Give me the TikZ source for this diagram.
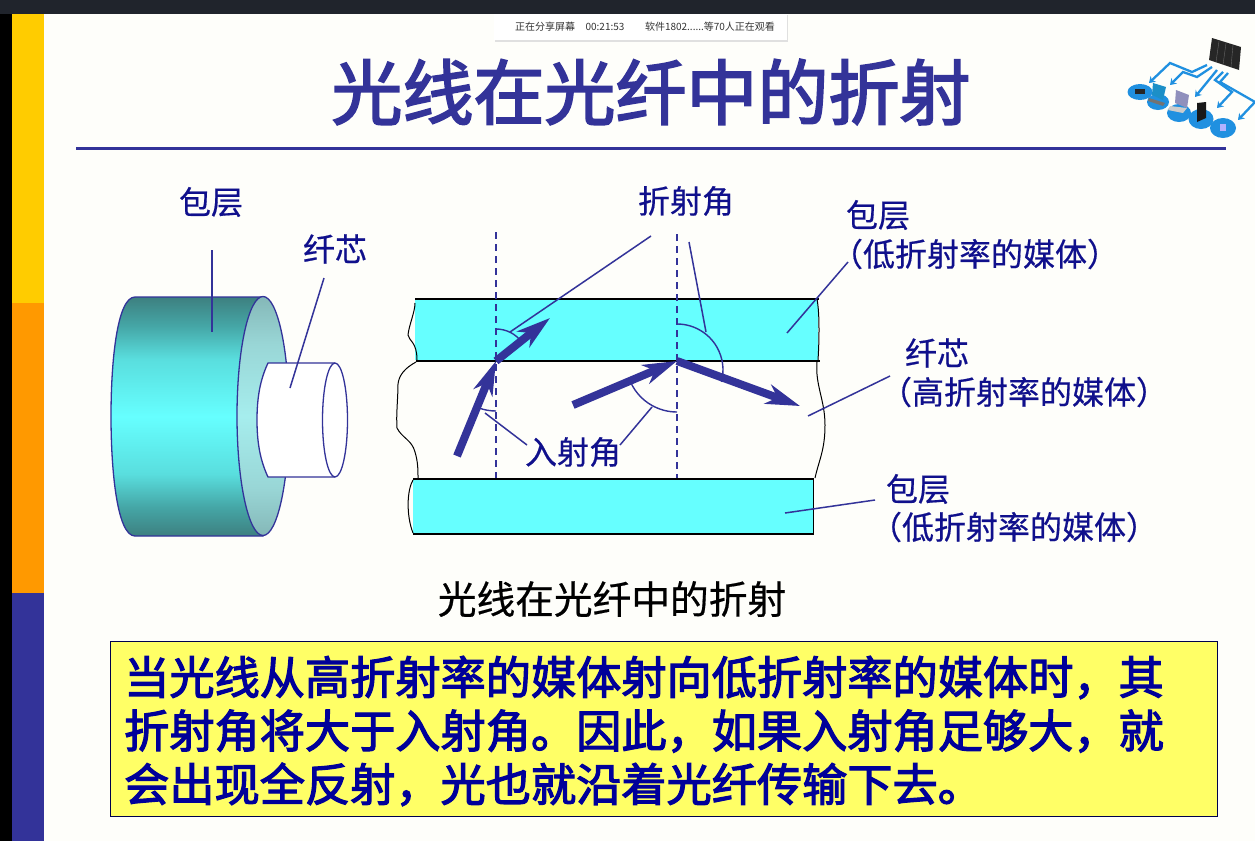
\documentclass[tikz,border=0pt]{standalone}
\usepackage{fontspec}
\setmainfont{Noto Sans CJK SC}
\newfontfamily\lblfont[FakeBold=0.5]{Noto Sans CJK SC}
\newfontfamily\heavyfont[FakeBold=2.6]{Noto Sans CJK SC}
\usetikzlibrary{arrows.meta}
\definecolor{inkblue}{HTML}{333399}
\definecolor{labelblue}{HTML}{10108C}
\definecolor{noteink}{HTML}{000099}
\definecolor{noteyellow}{HTML}{FFFF66}
\definecolor{bandcyan}{HTML}{66FFFF}
\definecolor{iconblue}{HTML}{2090E0}
\definecolor{paper}{HTML}{FEFEFA}
\definecolor{topbar}{HTML}{20242C}
\definecolor{stripeY}{HTML}{FFCC00}
\definecolor{stripeO}{HTML}{FF9900}
\pgfdeclareverticalshading{bodyfade}{100bp}{
	rgb(0bp)=(0.24,0.50,0.50); rgb(25bp)=(0.24,0.50,0.50); rgb(31bp)=(0.27,0.65,0.65); rgb(38bp)=(0.35,0.87,0.87); rgb(50bp)=(0.40,1,1); rgb(62bp)=(0.35,0.87,0.87); rgb(69bp)=(0.27,0.65,0.65); rgb(75bp)=(0.24,0.50,0.50); rgb(100bp)=(0.24,0.50,0.50)}
\pgfdeclareverticalshading{facefade}{100bp}{
	rgb(0bp)=(0.52,0.72,0.72); rgb(25bp)=(0.52,0.72,0.72); rgb(35bp)=(0.60,0.84,0.84); rgb(50bp)=(0.65,0.93,0.93); rgb(65bp)=(0.60,0.84,0.84); rgb(75bp)=(0.52,0.72,0.72); rgb(100bp)=(0.52,0.72,0.72)}
\tikzset{
	lbl/.style={text=labelblue, font=\lblfont\fontsize{32}{32}\selectfont, inner sep=0pt},
	barlbl/.style={text=black!80, font=\fontsize{10}{10}\selectfont, inner sep=0pt},
	leader/.style={inkblue, line width=1.5pt},
	edge/.style={black, line width=1pt},
	wall/.style={black, line width=2.2pt},
	normal/.style={inkblue, line width=1.7pt, dash pattern=on 7pt off 5pt},
	anglearc/.style={inkblue, line width=1.4pt},
	ray/.style={inkblue, line width=8pt, -{Stealth[length=34pt,width=20pt,inset=10pt]}},
	cyl/.style={inkblue, line width=1.3pt},
	iconarrow/.style={iconblue, line width=2.3pt, -{Stealth[length=6pt,width=8pt]}}
}
\begin{document}
\begin{tikzpicture}[x=1pt,y=-1pt]
	\useasboundingbox (0,0) rectangle (1255,841);
	\fill[paper] (0,0) rectangle (1255,841);
	\fill[black] (0,0) rectangle (12,841);
	\fill[stripeY] (12,14) rectangle (44,303);
	\fill[stripeO] (12,303) rectangle (44,593);
	\fill[inkblue] (12,593) rectangle (44,841);
	\fill[topbar] (0,0) rectangle (1255,14);

	\fill[black!12] (495,15) rectangle (788,42);
	\fill[white] (494,14) rectangle (787,40);
	\node[barlbl] (sharelbl) at (545,27) {正在分享屏幕};
	\node[barlbl] (sharetime) at (605,27) {00:21:53};
	\node[barlbl] (sharewho) at (710,27) {软件1802......等70人正在观看};

	\node[text=inkblue, font=\heavyfont\fontsize{71}{71}\selectfont, inner sep=0pt] (title) at (651,92) {光线在光纤中的折射};
	\coordinate (ruleL) at (76,148);
	\coordinate (ruleR) at (1226,148);
	\draw[inkblue, line width=3pt] (ruleL) -- (ruleR);

	% network icon
	\fill[black!85] (1212,38) -- (1241,47) -- (1239,70) -- (1209,60) -- cycle;
	\draw[black!60, line width=0.4pt] (1219,41) -- (1216,62) (1226,43) -- (1223,65) (1233,45) -- (1231,67);
	\fill[iconblue] (1140,92) ellipse [x radius=12.5, y radius=8];
	\fill[iconblue] (1158,102) ellipse [x radius=11, y radius=8];
	\fill[iconblue] (1179,113) ellipse [x radius=12, y radius=9];
	\fill[iconblue] (1201,119) ellipse [x radius=12.5, y radius=10];
	\fill[iconblue] (1223,128) ellipse [x radius=13, y radius=10];
	\draw[iconarrow] (1207,65) -- (1192,72) -- (1170,63) -- (1149,83);
	\draw[iconarrow] (1212,67) -- (1197,77) -- (1183,72) -- (1170,85);
	\draw[iconarrow] (1217,70) -- (1195,97);
	\draw[iconarrow] (1223,72) -- (1215,80) -- (1232,92) -- (1217,108);
	\draw[iconarrow] (1228,73) -- (1220,82) -- (1255,102) -- (1238,120);
	\fill[black!85] (1135,89) rectangle (1145,94);
	\fill[inkblue!55!cyan] (1153,83) -- (1166,87) -- (1163,100) -- (1152,95) -- cycle;
	\fill[black!55] (1149,98) -- (1165,103) -- (1163,106) -- (1148,101) -- cycle;
	\fill[blue!25!gray!70] (1176,90) -- (1189,95) -- (1187,108) -- (1175,103) -- cycle;
	\fill[black!20] (1170,106) -- (1187,108) -- (1183,113) -- (1168,110) -- cycle;
	\fill[black!90] (1197,103) -- (1206,102) -- (1206,118) -- (1197,122) -- cycle;
	\fill[white!70!blue] (1220,124) rectangle (1226,131);

	% cylinder
	\draw[cyl, shading=bodyfade] (135,297) -- (263,297) -- (263,536) -- (135,536) .. controls (117,536) and (111,470) .. (111,416) .. controls (111,362) and (117,297) .. (135,297) -- cycle;
	\draw[cyl, shading=facefade] (263,416) ellipse [x radius=26, y radius=119.5];
	\draw[cyl, fill=white] (335,363) -- (268,363) .. controls (260,380) and (257,398) .. (257,420) .. controls (257,442) and (260,460) .. (268,477) -- (335,477);
	\draw[cyl, fill=white] (335,420) ellipse [x radius=12.5, y radius=57];

	% bands
	\fill[bandcyan] (415,300) rectangle (818,360);
	\fill[bandcyan] (413,480) rectangle (813,533);
	\draw[edge] (415,303) .. controls (415,312) and (409,325) .. (408,335) .. controls (409,341) and (417,342) .. (417,360);
	\draw[edge] (416,362) .. controls (405,368) and (399,375) .. (398,384) .. controls (398,398) and (396,415) .. (397,428) .. controls (402,438) and (412,440) .. (415,452) .. controls (418,462) and (418,470) .. (418,478);
	\draw[edge] (413,480) .. controls (407,490) and (406,515) .. (413,533);
	\draw[edge] (817,299) .. controls (820,315) and (819,345) .. (818,360);
	\draw[edge] (817,362) .. controls (815,385) and (825,400) .. (825,425) .. controls (825,450) and (819,460) .. (815,478);
	\draw[edge] (813,480) -- (813,533);
	\coordinate (topL) at (415,299);
	\coordinate (topR) at (819,299);
	\coordinate (midL) at (416,361);
	\coordinate (midR) at (820,361);
	\coordinate (lowL) at (413,479);
	\coordinate (lowR) at (814,479);
	\coordinate (botL) at (413,534);
	\coordinate (botR) at (814,534);
	\draw[wall] (topL) -- (topR);
	\draw[wall] (midL) -- (midR);
	\draw[wall] (lowL) -- (lowR);
	\draw[wall] (botL) -- (botR);

	\coordinate (hitL) at (496,361);
	\coordinate (hitR) at (677,361);
	\coordinate (normLtop) at (496,232);
	\coordinate (normLbot) at (496,478);
	\coordinate (normRtop) at (677,234);
	\coordinate (normRbot) at (677,478);
	\draw[normal] (normLtop) -- (normLbot);
	\draw[normal] (normRtop) -- (normRbot);

	\coordinate (rayAstart) at (457,456);
	\coordinate (rayBend) at (550,318);
	\coordinate (rayCstart) at (573,405);
	\coordinate (rayDend) at (800,406);
	\draw[ray] (rayAstart) -- (hitL);
	\draw[ray] (hitL) -- (rayBend);
	\draw[ray] (rayCstart) -- (hitR);
	\draw[ray] (hitR) -- (rayDend);

	\draw[anglearc] (496,411) arc [start angle=90, end angle=109, radius=50];
	\draw[anglearc] (496,329) arc [start angle=-90, end angle=-36, radius=32];
	\draw[anglearc] (677,324) arc [start angle=-90, end angle=15, radius=46];
	\draw[anglearc] (677,412) arc [start angle=90, end angle=153, radius=51];

	% labels
	\node[lbl] (cladA) at (211,202) {包层};
	\node[lbl] (coreA) at (335,249) {纤芯};
	\node[lbl] (refr) at (686,201) {折射角};
	\node[lbl] (cladB) at (878,215) {包层};
	\node[lbl] (cladBnote) at (975,254) {（低折射率的媒体）};
	\node[lbl] (coreB) at (937,353) {纤芯};
	\node[lbl] (coreBnote) at (1024,392) {（高折射率的媒体）};
	\node[lbl] (cladC) at (918,489) {包层};
	\node[lbl] (cladCnote) at (1014,527) {（低折射率的媒体）};
	\node[lbl] (inc) at (573,452) {入射角};
	\node[text=black, font=\lblfont\fontsize{38.7}{38.7}\selectfont, inner sep=0pt] (caption) at (612,599) {光线在光纤中的折射};

	% leaders
	\coordinate (pA) at (212,332);
	\coordinate (pB) at (290,388);
	\coordinate (pC) at (510,332);
	\coordinate (pD) at (706,332);
	\coordinate (pE) at (787,333);
	\coordinate (pF) at (808,416);
	\coordinate (pG) at (785,513);
	\coordinate (pH) at (485,413);
	\coordinate (pI) at (652,407);
	\coordinate (sA) at (212,250);
	\coordinate (sB) at (324,278);
	\coordinate (sC) at (651,236);
	\coordinate (sD) at (689,242);
	\coordinate (sE) at (848,262);
	\coordinate (sF) at (890,376);
	\coordinate (sG) at (875,500);
	\coordinate (sH) at (527,445);
	\coordinate (sI) at (620,445);
	\draw[leader] (sA) -- (pA);
	\draw[leader] (sB) -- (pB);
	\draw[leader] (sC) -- (pC);
	\draw[leader] (sD) -- (pD);
	\draw[leader] (sE) -- (pE);
	\draw[leader] (sF) -- (pF);
	\draw[leader] (sG) -- (pG);
	\draw[leader] (sH) -- (pH);
	\draw[leader] (sI) -- (pI);

	\node[draw=black!70!blue, line width=1pt, fill=noteyellow, minimum width=1107pt, minimum height=175pt, inner sep=0pt] (notebox) at (663.5,728.5) {};
	\node[text=noteink, font=\heavyfont\fontsize{45.2}{53.5}\selectfont, align=left, inner sep=0pt, anchor=west] (notetext) at (124,731) {当光线从高折射率的媒体射向低折射率的媒体时，其\\折射角将大于入射角。因此，如果入射角足够大，就\\会出现全反射，光也就沿着光纤传输下去。};
\end{tikzpicture}
\end{document}
